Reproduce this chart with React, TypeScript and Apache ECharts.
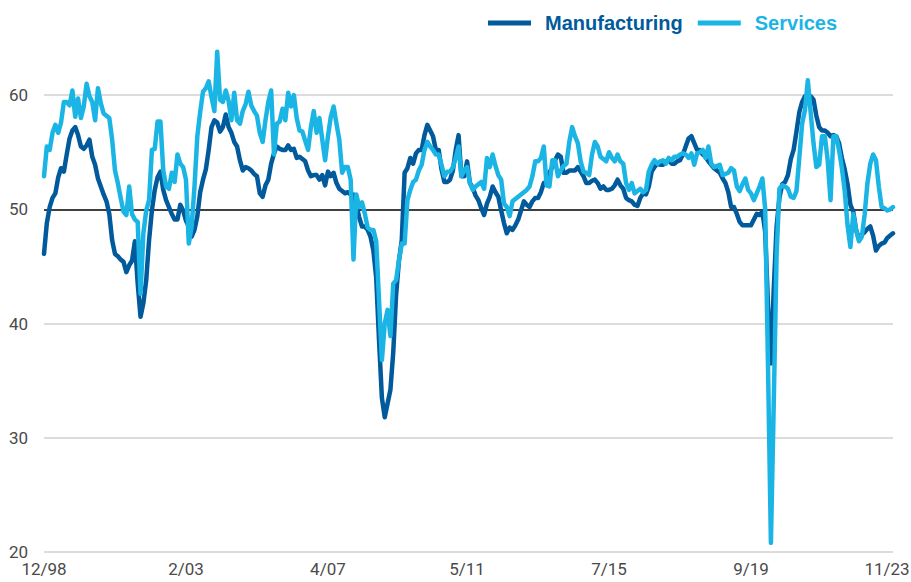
import React, { useEffect, useRef } from "react";
import * as echarts from "echarts";

const startMonth = 12;
const startYear = 1998;
const monthCount = 300;
const tickLabels = ["12/98", "2/03", "4/07", "5/11", "7/15", "9/19", "11/23"];
const yTicks = [20, 30, 40, 50, 60];

const manufacturing = [
  46.1, 48.8, 50.2, 51.0, 51.4, 52.8, 53.6, 53.3, 54.8, 56.2,
  56.9, 57.2, 56.5, 55.5, 55.3, 55.6, 56.1, 54.6, 53.9, 52.7,
  52.0, 51.3, 50.7, 49.6, 47.3, 46.1, 45.9, 45.6, 45.4, 44.5,
  45.1, 45.5, 47.2, 43.5, 40.6, 41.8, 43.8, 47.3, 49.9, 51.7,
  52.8, 53.3, 51.7, 50.8, 50.2, 49.6, 49.1, 49.1, 50.4, 49.9,
  49.0, 48.5, 47.6, 48.2, 49.4, 51.5, 52.6, 53.5, 55.2, 57.2,
  57.8, 57.6, 56.8, 57.2, 58.3, 57.2, 56.7, 55.9, 55.5, 54.3,
  53.4, 53.7, 53.6, 53.4, 53.1, 52.9, 51.4, 51.1, 52.1, 52.6,
  54.0, 54.9, 55.5, 55.3, 55.2, 55.2, 55.6, 55.2, 55.3, 54.5,
  54.6, 54.4, 54.2, 53.4, 52.9, 53.0, 53.0, 52.6, 53.0, 52.1,
  53.3, 52.9, 53.2, 52.3, 51.8, 51.6, 51.4, 51.5, 51.3, 51.3,
  50.4, 49.3, 48.5, 48.5, 48.2, 47.6, 46.4, 44.0, 38.5, 33.5,
  31.8, 33.0, 34.2, 37.5, 42.5, 45.5, 47.3, 53.2, 53.6, 54.5,
  54.0, 54.9, 55.2, 55.2, 56.5, 57.4, 56.9, 56.4, 55.2, 55.2,
  53.5, 52.4, 52.4, 52.6, 53.4, 55.2, 56.5, 52.9, 52.9, 54.2,
  52.3, 51.9, 51.2, 50.8, 50.1, 49.5, 50.5, 51.1, 52.0, 51.5,
  51.1, 49.9, 48.8, 47.9, 48.4, 48.2, 48.6, 49.1, 49.9, 50.7,
  50.4, 50.2, 50.7, 51.0, 51.0, 51.5, 52.3, 52.4, 53.2, 53.7,
  54.3, 54.8, 54.6, 53.2, 53.2, 53.4, 53.4, 53.4, 53.7, 53.3,
  52.9, 52.3, 52.3, 52.5, 52.6, 52.3, 51.8, 52.0, 51.7, 51.7,
  51.8, 52.1, 52.6, 52.1, 51.8, 51.0, 50.8, 50.7, 50.4, 50.3,
  51.0, 51.4, 51.3, 52.0, 53.3, 53.7, 54.0, 53.9, 53.9, 54.2,
  54.3, 54.0, 54.0, 54.2, 54.3, 54.8, 55.5, 56.2, 56.4, 55.8,
  55.2, 55.2, 54.8, 54.6, 54.2, 53.9, 53.6, 53.4, 53.2, 52.7,
  52.3, 51.5, 50.2, 50.2, 49.6, 48.9, 48.6, 48.6, 48.6, 48.6,
  49.1, 49.6, 49.5, 49.8, 48.0, 41.5, 36.5, 43.0, 48.5, 51.0,
  52.2, 52.4, 53.0, 54.4, 55.2, 56.8, 58.5, 59.4, 59.9, 59.7,
  59.9, 59.6, 58.2, 57.2, 56.9, 56.9, 56.7, 56.4, 56.5, 56.4,
  55.8, 54.5, 53.5, 52.2, 50.4, 49.8, 48.2, 47.4, 47.8, 48.0,
  48.3, 48.5, 47.7, 46.4, 46.8, 47.0, 47.1, 47.5, 47.7, 47.9,
];

const services = [
  52.9, 55.5, 55.2, 56.7, 57.4, 56.7, 57.6, 59.4, 59.4, 59.1,
  60.4, 58.1, 59.7, 58.0, 59.0, 61.0, 59.9, 59.4, 57.8, 60.6,
  59.3, 58.4, 58.2, 58.0, 56.1, 53.4, 52.3, 51.0, 49.8, 49.5,
  52.0, 49.6, 49.1, 48.9, 42.6, 47.9, 49.9, 50.8, 55.2, 55.3,
  57.7, 57.7, 53.4, 52.0, 51.8, 53.2, 52.4, 54.8, 54.0, 53.7,
  52.6, 47.0, 48.5, 52.0, 56.4, 58.5, 60.3, 60.6, 61.2, 59.8,
  58.6, 63.8, 59.6, 59.4, 60.4, 59.5, 57.8, 60.2, 57.8, 57.5,
  58.6, 59.2, 60.3, 59.1, 58.6, 58.2, 56.7, 55.9, 57.8, 59.4,
  60.4, 54.8, 57.5, 57.7, 58.8, 57.8, 60.2, 59.0, 60.0, 58.0,
  56.9, 56.8, 56.0, 55.2, 57.2, 58.6, 56.7, 58.0, 56.1, 54.3,
  56.4, 58.1, 59.0, 57.5, 56.1, 53.2, 53.7, 53.7, 52.6, 45.6,
  51.3, 50.2, 50.6, 49.6, 48.4, 48.2, 48.2, 47.2, 42.0, 36.8,
  40.0, 41.2, 38.9, 43.5, 43.8, 45.5, 47.0, 47.0, 50.8, 51.7,
  52.4, 52.6, 53.4, 53.9, 55.2, 55.9, 55.5, 55.2, 54.8, 54.8,
  53.9, 52.9, 53.3, 53.3, 53.7, 54.5, 55.5, 52.9, 53.4, 53.7,
  52.3, 51.7, 52.0, 52.2, 52.4, 51.8, 54.5, 53.7, 54.8, 53.8,
  53.0, 52.6, 50.5, 50.2, 49.4, 50.7, 50.9, 51.1, 51.3, 51.5,
  51.7, 52.0, 52.9, 54.2, 54.2, 54.5, 55.5, 52.1, 52.0, 54.3,
  54.3, 52.9, 53.4, 53.8, 54.0, 55.9, 57.2, 56.4, 55.8, 54.2,
  53.3, 53.2, 53.0, 54.8, 55.9, 55.5, 54.6, 54.4, 54.2, 55.0,
  54.5, 54.2, 54.8, 54.2, 54.0, 52.3, 51.7, 52.3, 51.4, 51.6,
  51.8, 51.5, 51.7, 53.3, 53.9, 54.3, 54.0, 54.2, 54.3, 54.0,
  54.5, 54.3, 54.6, 54.6, 54.8, 54.9, 54.8, 54.5, 54.9, 53.9,
  54.9, 55.0, 55.2, 54.5, 55.5, 54.0, 53.7, 53.8, 53.9, 53.0,
  53.1, 53.2, 53.6, 53.4, 52.0, 51.6, 52.2, 52.7, 51.7, 51.4,
  50.8, 51.4, 52.0, 52.7, 50.0, 36.0, 20.8, 33.0, 46.0, 51.8,
  52.1, 52.0, 51.8, 51.1, 51.0, 51.6, 54.5, 57.5, 58.7, 61.3,
  58.5, 55.8, 53.7, 53.9, 56.4, 56.4, 54.3, 50.8, 56.4, 56.4,
  55.2, 53.6, 51.6, 48.6, 46.7, 49.6, 48.2, 47.2, 47.6, 49.5,
  52.3, 54.0, 54.8, 54.3, 52.0, 50.2, 50.1, 49.9, 50.0, 50.2,
];

const monthLabels: string[] = [];
for (let i = 0; i < monthCount; i++) {
  const k = startMonth - 1 + i;
  const m = (k % 12) + 1;
  const y = startYear + Math.floor(k / 12);
  monthLabels.push(`${m}/${String(y % 100).padStart(2, "0")}`);
}

const MFG_COLOR = "#005a9c";
const SRV_COLOR = "#1bb5e5";
const LABEL_FONT = "Roboto, sans-serif";
const LABEL_COLOR = "#4a4a4a";
const LABEL_SIZE = 17;

export default function App() {
  const ref = useRef<HTMLDivElement>(null);
  useEffect(() => {
    if (!ref.current) return;
    const chart = echarts.init(ref.current, null, { renderer: "svg" });
    const lastLabel = tickLabels[tickLabels.length - 1];
    chart.setOption({
      animation: false,
      backgroundColor: "#ffffff",
      legend: {
        left: 483,
        top: 8,
        icon: "rect",
        itemWidth: 43,
        itemHeight: 5,
        itemGap: 15,
        textStyle: {
          fontFamily: "'Liberation Sans', Arial, sans-serif",
          fontWeight: "bold",
          fontSize: 20,
          padding: [0, 0, 0, 9],
        },
        data: [
          { name: "Manufacturing", textStyle: { color: MFG_COLOR } },
          { name: "Services", textStyle: { color: SRV_COLOR } },
        ],
      },
      grid: {
        left: 44,
        right: 18,
        top: 38,
        bottom: 30,
        containLabel: false,
        outerBoundsMode: "none",
      },
      xAxis: {
        type: "category",
        data: monthLabels,
        boundaryGap: false,
        axisLine: { show: false },
        axisTick: { show: false },
        splitLine: { show: false },
        axisLabel: {
          interval: (_idx: number, value: string) => tickLabels.includes(value),
          margin: 8,
          color: LABEL_COLOR,
          fontSize: LABEL_SIZE,
          fontFamily: LABEL_FONT,
          formatter: (value: string) => (value === lastLabel ? `{last|${value}}` : value),
          rich: {
            last: {
              color: LABEL_COLOR,
              fontSize: LABEL_SIZE,
              fontFamily: LABEL_FONT,
              padding: [0, 12, 0, 0],
            },
          },
        },
      },
      yAxis: {
        type: "value",
        min: 20,
        max: 65,
        interval: 10,
        axisLine: { show: false },
        axisTick: { show: false },
        axisLabel: {
          margin: 16,
          color: LABEL_COLOR,
          fontSize: LABEL_SIZE,
          fontFamily: LABEL_FONT,
          showMaxLabel: false,
          formatter: (v: number) => (yTicks.includes(v) ? String(v) : ""),
        },
        splitLine: {
          show: true,
          showMaxLine: false,
          lineStyle: {
            width: 1.5,
            color: ["#d0d0d0", "#d0d0d0", "#d0d0d0", "#000000", "#d0d0d0", "rgba(0,0,0,0)"],
          },
        },
      },
      series: [
        {
          name: "Manufacturing",
          type: "line",
          data: manufacturing,
          showSymbol: false,
          symbol: "none",
          color: MFG_COLOR,
          lineStyle: { width: 4.5, color: MFG_COLOR, join: "round", cap: "round" },
          z: 3,
        },
        {
          name: "Services",
          type: "line",
          data: services,
          showSymbol: false,
          symbol: "none",
          color: SRV_COLOR,
          lineStyle: { width: 4.5, color: SRV_COLOR, join: "round", cap: "round" },
          z: 4,
        },
      ],
    });
    return () => chart.dispose();
  }, []);
  return (
    <div
      ref={ref}
      style={{ position: "absolute", left: 0, top: 0, width: 911, height: 582, background: "#fff" }}
    />
  );
}
